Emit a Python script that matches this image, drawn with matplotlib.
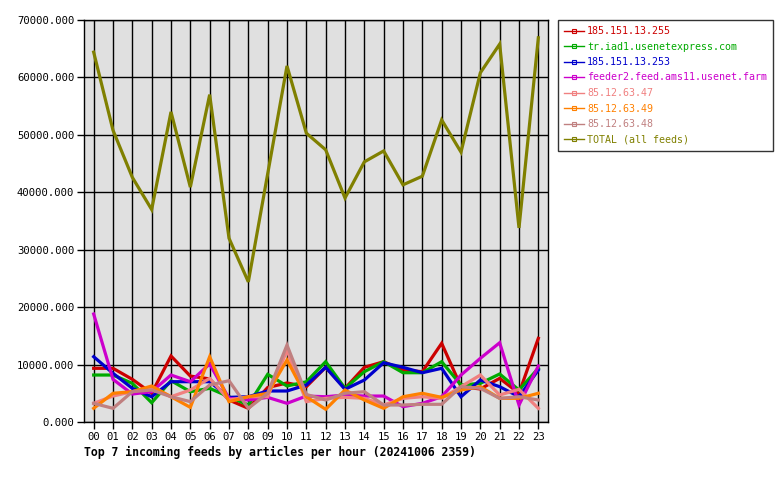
import numpy as np
import matplotlib.pyplot as plt
from matplotlib.ticker import FormatStrFormatter
from matplotlib.lines import Line2D

hours = ['%02d' % h for h in range(24)]

feeds = ['185.151.13.255', 'tr.iad1.usenetexpress.com', '185.151.13.253',
         'feeder2.feed.ams11.usenet.farm', '85.12.63.47', '85.12.63.49',
         '85.12.63.48', 'TOTAL (all feeds)']
colors = ['#cc0000', '#00aa00', '#0000cc', '#cc00cc', '#f08080', '#ff8000',
          '#c08080', '#808000']

# articles per hour
f_255 = [9350, 9350, 7430, 5000, 11490, 8000, 7500, 3830, 2380, 6000, 6800, 6150,
         9520, 5860, 9520, 10500, 9050, 8760, 13700, 6150, 5750, 7600, 5000, 14570]
f_iad1 = [8180, 8180, 6730, 3360, 7190, 5280, 5860, 4400, 2960, 8300, 6270, 7000,
          10500, 5860, 8760, 10500, 8580, 8580, 10500, 6440, 6730, 8360, 5570, 9350]
f_253 = [11370, 8480, 5860, 4400, 7020, 7020, 7020, 4290, 4400, 5400, 5400, 6440,
         9520, 5690, 7310, 10320, 9520, 8580, 9350, 4400, 7310, 6150, 4400, 9050]
f_ams11 = [18800, 7430, 4870, 5280, 8180, 7020, 10100, 4120, 3830, 4290, 3250, 4520,
           4400, 4700, 4520, 4520, 2670, 3250, 4400, 8180, 11090, 13800, 2960, 9750]
f_47 = [3250, 4520, 5280, 6040, 4400, 5570, 7600, 3830, 4400, 4400, 12500, 3540,
        4120, 4290, 4120, 2960, 4120, 4400, 4120, 6150, 8180, 4700, 5690, 2380]
f_49 = [2380, 5000, 5280, 6270, 4400, 2550, 11370, 3540, 4400, 5000, 10800, 4400,
        2210, 5570, 3830, 2380, 4400, 5000, 4290, 5570, 6150, 4120, 4120, 5000]
f_48 = [3250, 2380, 5280, 5570, 4400, 3540, 6440, 7190, 2380, 5000, 13400, 4800,
        3830, 5000, 5280, 2960, 2960, 3080, 3080, 6150, 5860, 4120, 4400, 3830]
total = [64400, 50800, 42600, 37000, 54000, 40900, 57000, 32000, 24400, 43200, 62000, 50300,
         47400, 39000, 45300, 47200, 41300, 42800, 52600, 47000, 60800, 65800, 33800, 66900]

series = [f_255, f_iad1, f_253, f_ams11, f_47, f_49, f_48, total]

mono = 'DejaVu Sans Mono'
fig = plt.figure(figsize=(7.8, 4.8), dpi=100)
ax = fig.add_axes([84 / 780, 58 / 480, 464 / 780, 402 / 480])
ax.set_facecolor('#e0e0e0')

x = np.arange(24)
for vals, col in zip(series, colors):
    ax.plot(x, vals, color=col, lw=2.3, solid_joinstyle='miter', zorder=3)

ax.set_xlim(-0.5, 23.5)
ax.set_ylim(0, 70000)
ax.set_xticks(x)
ax.set_xticklabels(hours, fontfamily=mono, fontsize=7.6)
ax.set_yticks(np.arange(0, 70001, 10000))
ax.yaxis.set_major_formatter(FormatStrFormatter('%.3f'))
for lab in ax.get_yticklabels():
    lab.set_fontfamily(mono)
    lab.set_fontsize(7.6)
ax.grid(True, color='black', lw=1, zorder=1)
ax.set_axisbelow(True)
ax.tick_params(length=5, width=1, pad=2)
for s in ax.spines.values():
    s.set_color('black')
    s.set_linewidth(1)

fig.text(84 / 780, 1 - 452 / 480, 'Top 7 incoming feeds by articles per hour (20241006 2359)',
         fontfamily=mono, fontweight='bold', fontsize=8.3, va='center', ha='left')

handles = [Line2D([], [], color=c, lw=1, marker='s', markersize=2.5,
                  markerfacecolor='none', markeredgewidth=0.8) for c in colors]
leg = fig.legend(handles, feeds, loc='upper left',
                 bbox_to_anchor=(558 / 780, 1 - 20 / 480),
                 prop={'family': mono, 'size': 7.2}, frameon=True, fancybox=False,
                 handlelength=2.0, handletextpad=0.3, labelspacing=0.55,
                 borderpad=0.6, borderaxespad=0)
leg.get_frame().set_edgecolor('black')
leg.get_frame().set_linewidth(1)
for t, c in zip(leg.get_texts(), colors):
    t.set_color(c)

fig.savefig('out.png', dpi=100)
